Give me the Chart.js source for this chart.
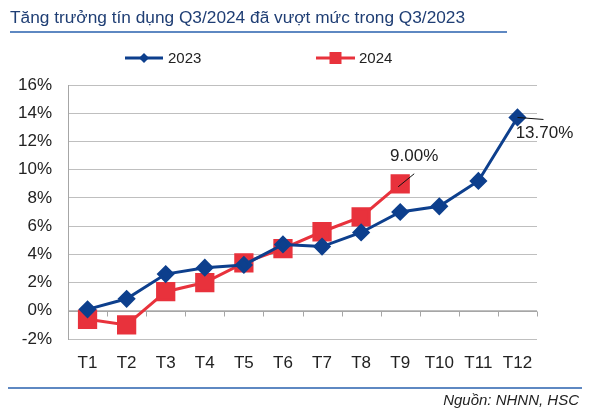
<!DOCTYPE html>
<html>
<head>
<meta charset="utf-8">
<script src="https://cdn.jsdelivr.net/npm/chart.js@4.4.1/dist/chart.umd.min.js"></script>
<style>
html,body{margin:0;padding:0;background:#fff;}
#wrap{width:600px;height:412px;position:relative;}
</style>
</head>
<body>
<div id="wrap"><canvas id="c" width="600" height="412"></canvas></div>
<script>
const TITLE = "Tăng trưởng tín dụng Q3/2024 đã vượt mức trong Q3/2023";
const SOURCE = "Nguồn: NHNN, HSC";
const categories = ["T1","T2","T3","T4","T5","T6","T7","T8","T9","T10","T11","T12"];
const series2023 = [0.1, 0.85, 2.6, 3.05, 3.25, 4.7, 4.55, 5.55, 7.0, 7.4, 9.2, 13.7];
const series2024 = [-0.6, -1.0, 1.35, 2.0, 3.4, 4.4, 5.6, 6.65, 9.0, null, null, null];
const yTicks = [-2, 0, 2, 4, 6, 8, 10, 12, 14, 16];
const BLUE = "#0D3F8D";
const RED = "#E8323C";
const FONT = "'Liberation Sans', Arial, sans-serif";

const decor = {
  id: 'decor',
  afterDraw(chart) {
    const ctx = chart.ctx;
    ctx.save();
    // title
    ctx.fillStyle = "#1F3E74";
    ctx.font = "17.3px " + FONT;
    ctx.textBaseline = "alphabetic";
    ctx.textAlign = "left";
    ctx.fillText(TITLE, 10, 23);
    ctx.strokeStyle = "#5E88C2";
    ctx.lineWidth = 2;
    ctx.beginPath(); ctx.moveTo(10, 32); ctx.lineTo(507, 32); ctx.stroke();
    // bottom line
    ctx.beginPath(); ctx.moveTo(8, 388); ctx.lineTo(582, 388); ctx.stroke();
    // source
    ctx.fillStyle = "#222";
    ctx.font = "italic 15px " + FONT;
    ctx.textAlign = "right";
    ctx.textBaseline = "middle";
    ctx.fillText(SOURCE, 579, 401);
    // legend
    const legend = [
      {label: "2023", color: BLUE, style: 'diamond', x0: 125, x1: 163, tx: 168},
      {label: "2024", color: RED, style: 'square', x0: 316, x1: 355, tx: 359}
    ];
    const ly = 58;
    legend.forEach(l => {
      ctx.strokeStyle = l.color; ctx.lineWidth = 3;
      ctx.beginPath(); ctx.moveTo(l.x0, ly); ctx.lineTo(l.x1, ly); ctx.stroke();
      ctx.fillStyle = l.color;
      const cx = (l.x0 + l.x1) / 2;
      ctx.beginPath();
      if (l.style === 'diamond') {
        ctx.moveTo(cx, ly - 5); ctx.lineTo(cx + 5, ly); ctx.lineTo(cx, ly + 5); ctx.lineTo(cx - 5, ly);
        ctx.closePath();
      } else {
        ctx.rect(cx - 6, ly - 6, 12, 12);
      }
      ctx.fill();
      ctx.fillStyle = "#222";
      ctx.font = "15px " + FONT;
      ctx.textAlign = "left";
      ctx.textBaseline = "middle";
      ctx.fillText(l.label, l.tx, ly + 1);
    });
    ctx.restore();
  }
};

const zeroAxis = {
  id: 'zeroAxis',
  beforeDatasetsDraw(chart) {
    const ctx = chart.ctx;
    const xs = chart.scales.x, ys = chart.scales.y;
    const ca = chart.chartArea;
    const y0 = Math.round(ys.getPixelForValue(0)) + 0.5;
    ctx.save();
    ctx.strokeStyle = "#A6A6A6";
    ctx.lineWidth = 1;
    ctx.beginPath();
    ctx.moveTo(ca.left, y0); ctx.lineTo(ca.right, y0);
    const n = categories.length;
    for (let i = 0; i <= n; i++) {
      let x;
      if (i === 0) x = ca.left;
      else if (i === n) x = ca.right;
      else x = (xs.getPixelForValue(i - 1) + xs.getPixelForValue(i)) / 2;
      x = Math.round(x) + 0.5;
      ctx.moveTo(x, y0); ctx.lineTo(x, y0 + 5);
    }
    ctx.stroke();
    ctx.restore();
  },
  afterDatasetsDraw(chart) {
    const ctx = chart.ctx;
    ctx.save();
    ctx.font = "17px " + FONT;
    ctx.fillStyle = "#222";
    ctx.strokeStyle = "#111";
    ctx.lineWidth = 1;
    ctx.textAlign = "center";
    ctx.textBaseline = "middle";
    // 9.00% label (2024, T9)
    const m1 = chart.getDatasetMeta(1).data[8];
    ctx.beginPath(); ctx.moveTo(m1.x - 2, m1.y + 3); ctx.lineTo(m1.x + 14, m1.y - 10); ctx.stroke();
    ctx.fillText(series2024[8].toFixed(2) + "%", m1.x + 14, m1.y - 27);
    // 13.70% label (2023, T12)
    const m0 = chart.getDatasetMeta(0).data[11];
    ctx.beginPath(); ctx.moveTo(m0.x, m0.y); ctx.lineTo(m0.x + 26, m0.y + 2); ctx.stroke();
    ctx.fillText(series2023[11].toFixed(2) + "%", m0.x + 27, m0.y + 16);
    ctx.restore();
  }
};

new Chart(document.getElementById('c'), {
  type: 'line',
  data: {
    labels: categories,
    datasets: [
      {label: "2023", data: series2023, borderColor: BLUE, backgroundColor: BLUE, borderWidth: 3,
       pointStyle: 'rectRot', pointRadius: 7, pointHoverRadius: 7, tension: 0},
      {label: "2024", data: series2024, borderColor: RED, backgroundColor: RED, borderWidth: 3,
       pointStyle: 'rect', pointRadius: 11.5, pointHoverRadius: 11.5, tension: 0}
    ]
  },
  options: {
    responsive: false,
    animation: false,
    events: [],
    layout: {padding: {top: 85, right: 63, left: 0, bottom: 0}},
    plugins: {legend: {display: false}, tooltip: {enabled: false}},
    scales: {
      x: {
        offset: true,
        grid: {display: false, drawTicks: false},
        border: {display: false},
        ticks: {color: "#222", font: {size: 17, family: FONT}, padding: 14, maxRotation: 0, autoSkip: false},
        afterFit(s) { s.height = 73; }
      },
      y: {
        min: -2, max: 16,
        afterBuildTicks(s) { s.ticks = yTicks.map(v => ({value: v})); },
        grid: {color: "#BFBFBF", lineWidth: 1, drawTicks: false},
        border: {display: true, color: "#A6A6A6", width: 1},
        ticks: {color: "#222", font: {size: 17, family: FONT}, padding: 16, callback: v => v + "%"},
        afterFit(s) { s.width = 68; }
      }
    }
  },
  plugins: [zeroAxis, decor]
});
</script>
</body>
</html>
